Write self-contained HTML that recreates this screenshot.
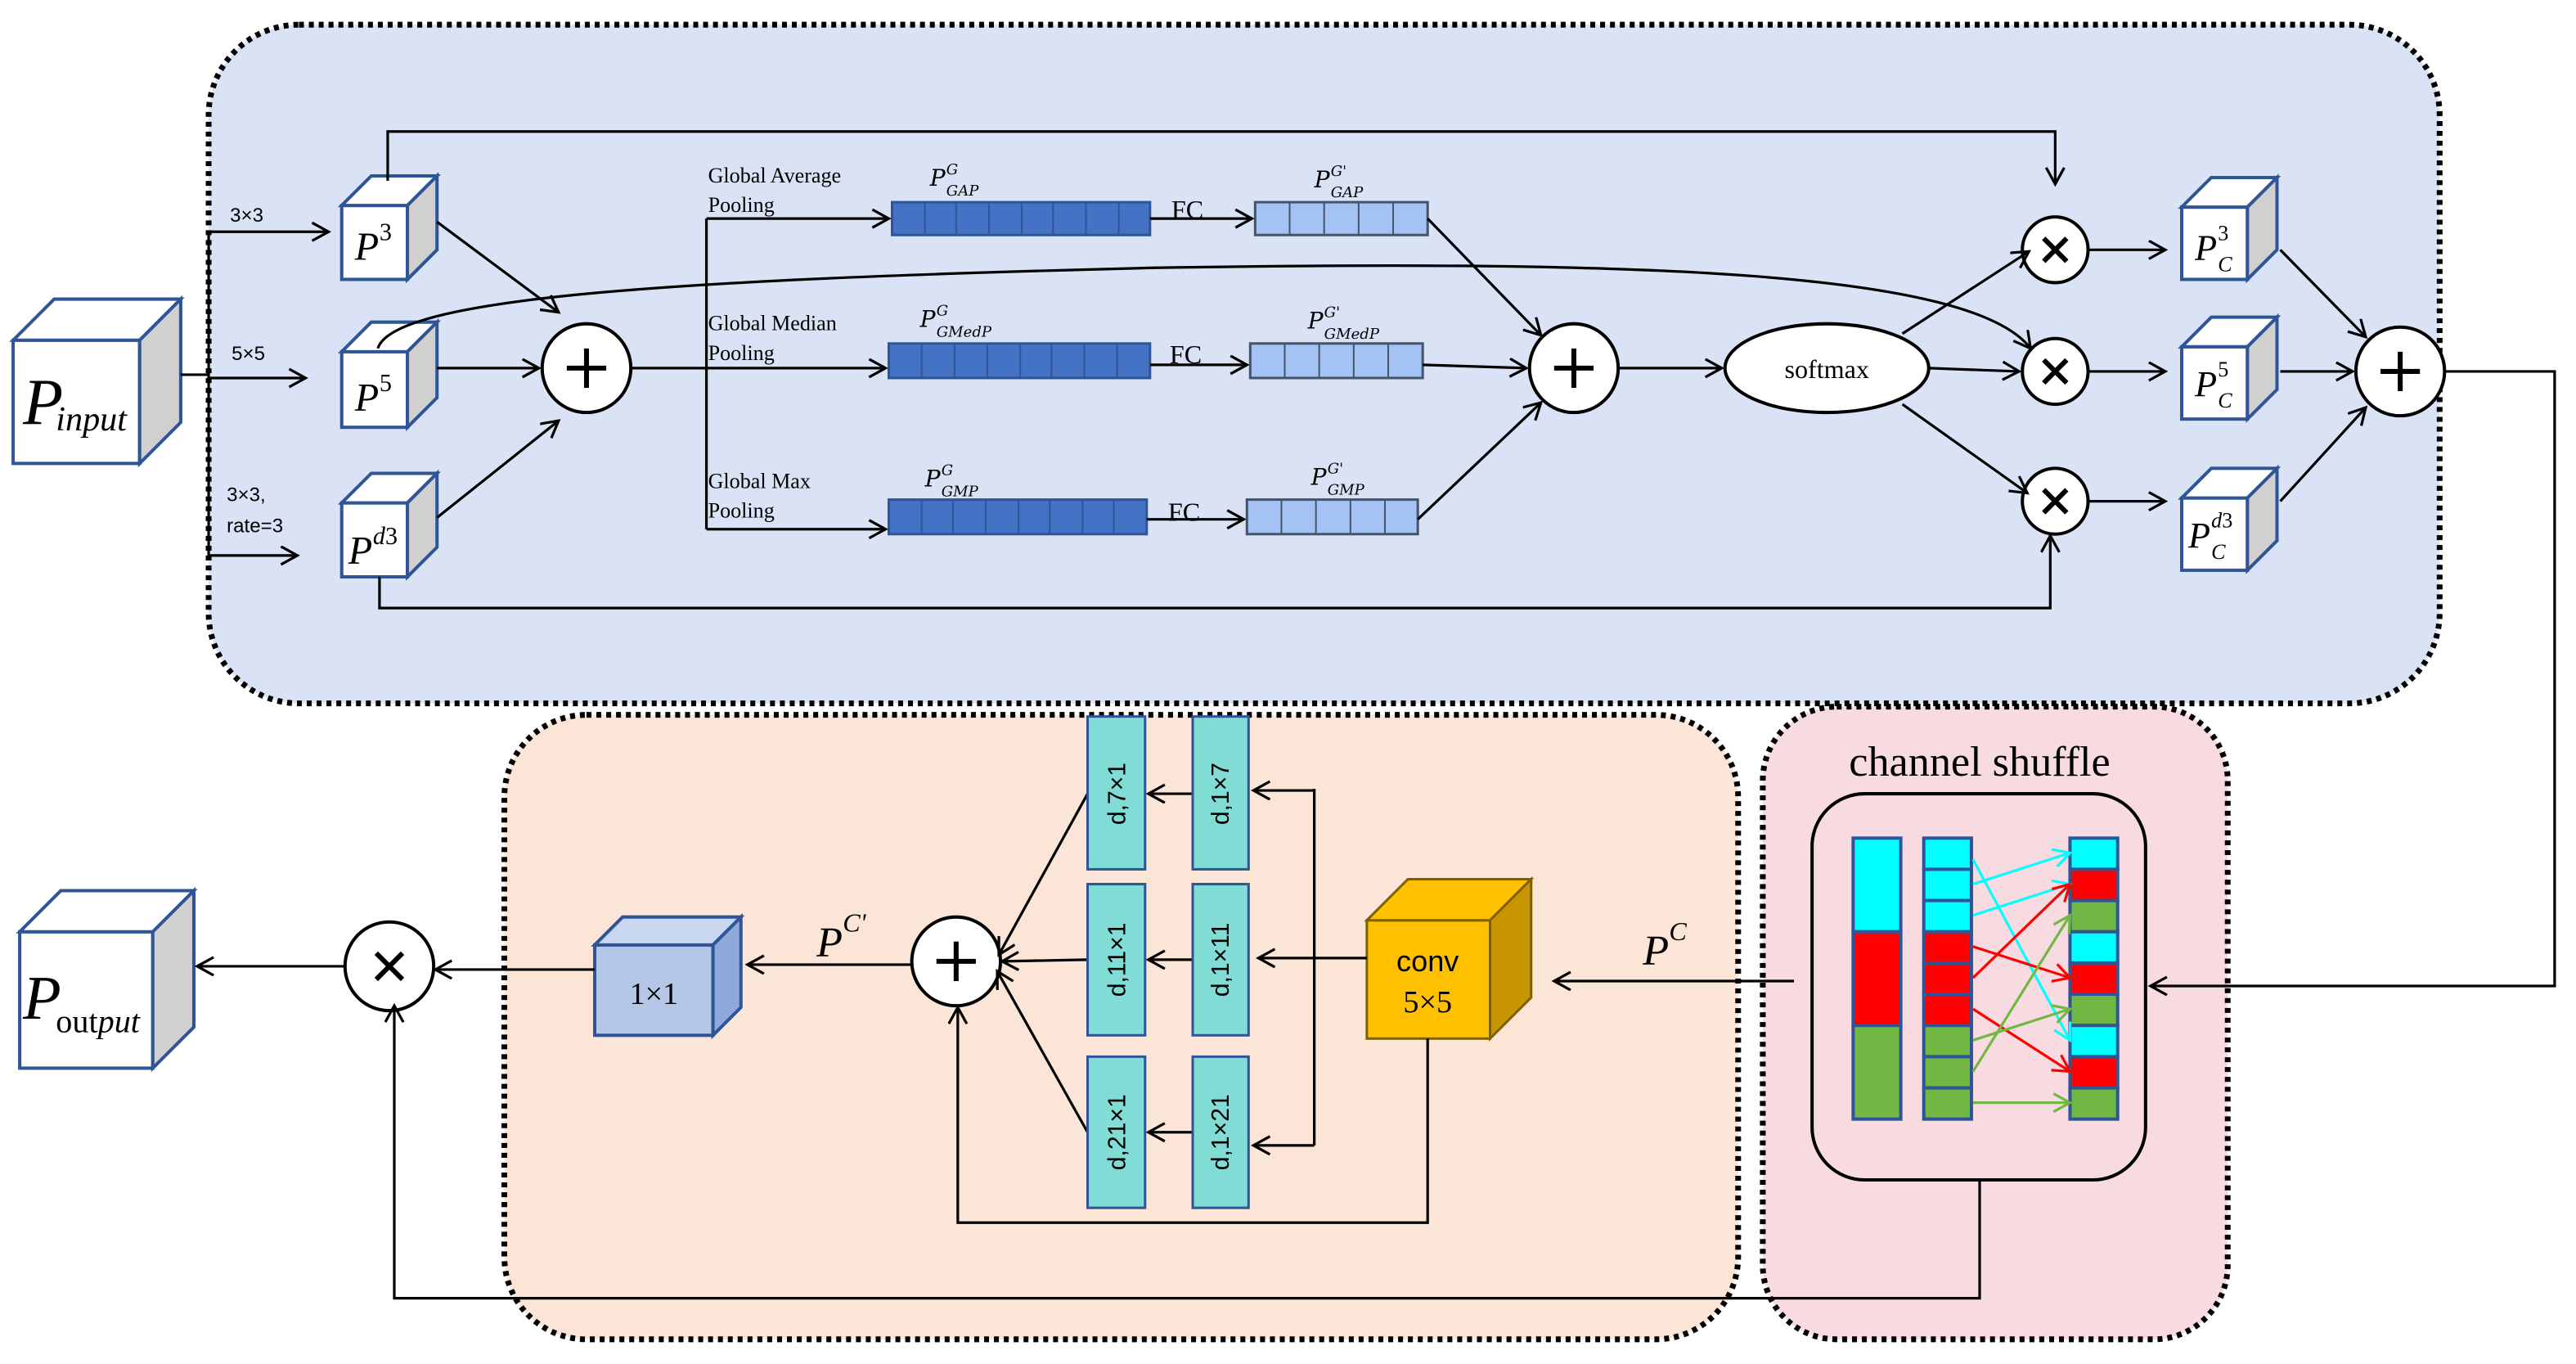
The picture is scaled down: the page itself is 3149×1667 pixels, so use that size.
<!DOCTYPE html>
<html><head><meta charset="utf-8"><style>html,body{margin:0;padding:0;background:#fff}svg{display:block}</style></head><body>
<svg width="3149" height="1667" viewBox="0 0 1568 830" xmlns="http://www.w3.org/2000/svg" font-family="Liberation Serif, serif">
<defs>
<marker id="a" markerUnits="userSpaceOnUse" markerWidth="14" markerHeight="14" refX="11" refY="6" orient="auto"><path d="M1,0.5 L11,6 L1,11.5" fill="none" stroke="#000" stroke-width="1.6"/></marker>
<marker id="ac" markerUnits="userSpaceOnUse" markerWidth="14" markerHeight="14" refX="11" refY="6" orient="auto"><path d="M1,0.5 L11,6 L1,11.5" fill="none" stroke="#00ffff" stroke-width="1.6"/></marker>
<marker id="ar" markerUnits="userSpaceOnUse" markerWidth="14" markerHeight="14" refX="11" refY="6" orient="auto"><path d="M1,0.5 L11,6 L1,11.5" fill="none" stroke="#ff0000" stroke-width="1.6"/></marker>
<marker id="ag" markerUnits="userSpaceOnUse" markerWidth="14" markerHeight="14" refX="11" refY="6" orient="auto"><path d="M1,0.5 L11,6 L1,11.5" fill="none" stroke="#70b843" stroke-width="1.6"/></marker>
</defs>
<rect x="127" y="15" width="1358" height="413" rx="55" fill="#dae3f5" stroke="#000" stroke-width="3.5" stroke-dasharray="3,3"/>
<rect x="307" y="435" width="751" height="380" rx="50" fill="#fbe5d6" stroke="#000" stroke-width="3.5" stroke-dasharray="3,3"/>
<rect x="1073" y="430" width="283" height="385" rx="45" fill="#f8dbe0" stroke="#000" stroke-width="3.5" stroke-dasharray="3,3"/>
<rect x="1103" y="483" width="203" height="235" rx="32" fill="none" stroke="#000" stroke-width="2"/>
<text x="1205" y="472" font-size="26" text-anchor="middle">channel shuffle</text>

<g stroke="#2f5597" stroke-width="2">
<g><rect x="8" y="207" width="77" height="75" fill="#fff"/><polygon points="8,207 33,182 110,182 85,207" fill="#fff"/><polygon points="85,207 110,182 110,257 85,282" fill="#d0d0d0"/></g>
<g><rect x="208" y="125" width="40" height="45" fill="#fff"/><polygon points="208,125 226,107 266,107 248,125" fill="#fff"/><polygon points="248,125 266,107 266,152 248,170" fill="#d0d0d0"/></g>
<g><rect x="208" y="214" width="40" height="46" fill="#fff"/><polygon points="208,214 226,196 266,196 248,214" fill="#fff"/><polygon points="248,214 266,196 266,242 248,260" fill="#d0d0d0"/></g>
<g><rect x="208" y="306" width="40" height="45" fill="#fff"/><polygon points="208,306 226,288 266,288 248,306" fill="#fff"/><polygon points="248,306 266,288 266,333 248,351" fill="#d0d0d0"/></g>
<g><rect x="1328" y="126" width="40" height="44" fill="#fff"/><polygon points="1328,126 1346,108 1386,108 1368,126" fill="#fff"/><polygon points="1368,126 1386,108 1386,152 1368,170" fill="#d0d0d0"/></g>
<g><rect x="1328" y="211" width="40" height="44" fill="#fff"/><polygon points="1328,211 1346,193 1386,193 1368,211" fill="#fff"/><polygon points="1368,211 1386,193 1386,237 1368,255" fill="#d0d0d0"/></g>
<g><rect x="1328" y="303" width="40" height="44" fill="#fff"/><polygon points="1328,303 1346,285 1386,285 1368,303" fill="#fff"/><polygon points="1368,303 1386,285 1386,329 1368,347" fill="#d0d0d0"/></g>
<g><rect x="12" y="567" width="81" height="83" fill="#fff"/><polygon points="12,567 37,542 118,542 93,567" fill="#fff"/><polygon points="93,567 118,542 118,625 93,650" fill="#d0d0d0"/></g>
<g><rect x="362" y="575" width="72" height="55" fill="#b4c7e7"/><polygon points="362,575 379,558 451,558 434,575" fill="#c8d6ef"/><polygon points="434,575 451,558 451,613 434,630" fill="#8eaadb"/></g>
</g>
<g stroke="#7f6000" stroke-width="1.5"><rect x="832" y="560" width="75" height="72" fill="#ffc000"/><polygon points="832,560 857,535 932,535 907,560" fill="#ffc000"/><polygon points="907,560 932,535 932,607 907,632" fill="#c89600"/></g>

<g font-style="italic">
<text x="14" y="258" font-size="40">P</text><text x="34" y="262" font-size="21">input</text>
<text x="216" y="158" font-size="24">P</text><text x="231" y="146" font-size="15" font-style="normal">3</text>
<text x="216" y="250" font-size="24">P</text><text x="231" y="238" font-size="15" font-style="normal">5</text>
<text x="212" y="343" font-size="24">P</text><text x="227" y="331" font-size="15">d<tspan font-style="normal">3</tspan></text>
<text x="1336" y="158" font-size="22">P</text><text x="1350" y="146" font-size="13" font-style="normal">3</text><text x="1350" y="165" font-size="13">C</text>
<text x="1336" y="241" font-size="22">P</text><text x="1350" y="229" font-size="13" font-style="normal">5</text><text x="1350" y="248" font-size="13">C</text>
<text x="1332" y="333" font-size="22">P</text><text x="1346" y="321" font-size="13">d<tspan font-style="normal">3</tspan></text><text x="1346" y="340" font-size="13">C</text>
<text x="14" y="620" font-size="38">P</text><text x="34" y="628" font-size="20"><tspan font-style="normal">out</tspan>put</text>
<text x="497" y="582" font-size="26">P</text><text x="513" y="567" font-size="16">C'</text>
<text x="1000" y="587" font-size="26">P</text><text x="1016" y="572" font-size="16">C</text>
</g>
<text x="398" y="611" font-size="19" text-anchor="middle">1×1</text>
<text x="869" y="591" font-size="18" text-anchor="middle" font-family="Liberation Sans, sans-serif">conv</text>
<text x="869" y="616" font-size="19" text-anchor="middle">5×5</text>

<g stroke="#2f5597" stroke-width="1.5" fill="#4472c4">
<rect x="543" y="123" width="157" height="20"/><rect x="541" y="209" width="159" height="21"/><rect x="541" y="304" width="157" height="21"/>
</g>
<g stroke="#2f5597" stroke-width="1">
<path d="M563,123v20M582,123v20M602,123v20M622,123v20M641,123v20M661,123v20M681,123v20"/>
<path d="M561,209v21M581,209v21M601,209v21M621,209v21M640,209v21M660,209v21M680,209v21"/>
<path d="M561,304v21M580,304v21M600,304v21M620,304v21M639,304v21M659,304v21M678,304v21"/>
</g>
<g stroke="#44546a" stroke-width="1.5" fill="#a4c2f4">
<rect x="764" y="123" width="105" height="20"/><rect x="761" y="209" width="105" height="21"/><rect x="759" y="304" width="104" height="21"/>
</g>
<g stroke="#44546a" stroke-width="1">
<path d="M785,123v20M806,123v20M827,123v20M848,123v20"/>
<path d="M782,209v21M803,209v21M824,209v21M845,209v21"/>
<path d="M780,304v21M801,304v21M822,304v21M843,304v21"/>
</g>
<g font-size="13">
<text x="431" y="111">Global Average</text><text x="431" y="129">Pooling</text>
<text x="431" y="201">Global Median</text><text x="431" y="219">Pooling</text>
<text x="431" y="297">Global Max</text><text x="431" y="315">Pooling</text>
</g>
<g font-size="16"><text x="713" y="133">FC</text><text x="712" y="221">FC</text><text x="711" y="317">FC</text></g>
<g font-style="italic" font-family="DejaVu Serif, serif">
<text x="566" y="113" font-size="14">P</text><text x="576" y="106" font-size="9">G</text><text x="576" y="119" font-size="9">GAP</text>
<text x="800" y="114" font-size="14">P</text><text x="810" y="107" font-size="9">G'</text><text x="810" y="120" font-size="9">GAP</text>
<text x="560" y="199" font-size="14">P</text><text x="570" y="192" font-size="9">G</text><text x="570" y="205" font-size="9">GMedP</text>
<text x="796" y="200" font-size="14">P</text><text x="806" y="193" font-size="9">G'</text><text x="806" y="206" font-size="9">GMedP</text>
<text x="563" y="296" font-size="14">P</text><text x="573" y="289" font-size="9">G</text><text x="573" y="302" font-size="9">GMP</text>
<text x="798" y="295" font-size="14">P</text><text x="808" y="288" font-size="9">G'</text><text x="808" y="301" font-size="9">GMP</text>
</g>

<g fill="#fff" stroke="#000" stroke-width="2">
<circle cx="357" cy="224" r="27"/><circle cx="958" cy="224" r="27"/>
<ellipse cx="1112" cy="224" rx="62" ry="27"/>
<circle cx="1251" cy="152" r="20"/><circle cx="1251" cy="226" r="20"/><circle cx="1251" cy="305" r="20"/>
<circle cx="1461" cy="226" r="27"/><circle cx="582" cy="585" r="27"/><circle cx="237" cy="588" r="27"/>
</g>
<text x="1112" y="230" font-size="16" text-anchor="middle">softmax</text>
<g stroke="#000" stroke-width="3" fill="none">
<path d="M345,224h24M357,212v24M946,224h24M958,212v24M1449,226h24M1461,214v24M570,585h24M582,573v24"/>
<path d="M1244,145l14,14M1258,145l-14,14M1244,219l14,14M1258,219l-14,14M1244,298l14,14M1258,298l-14,14M229,580l16,16M245,580l-16,16"/>
</g>

<g stroke="#000" stroke-width="1.6" fill="none">
<path d="M110,228H127M127,141V338"/>
<path d="M127,141H200" marker-end="url(#a)"/><path d="M127,230H186" marker-end="url(#a)"/><path d="M127,338H181" marker-end="url(#a)"/>
<path d="M236,110V80H1251V112" marker-end="url(#a)"/>
<path d="M231,351V370H1248V326" marker-end="url(#a)"/>
<path d="M230,212C240,180 420,170 700,163C1000,158 1200,165 1236,212" marker-end="url(#a)"/>
<path d="M266,135L340,190" marker-end="url(#a)"/><path d="M266,224H328" marker-end="url(#a)"/><path d="M266,315L340,256" marker-end="url(#a)"/>
<path d="M384,224H430M430,133V322"/>
<path d="M430,133H541" marker-end="url(#a)"/><path d="M430,224H539" marker-end="url(#a)"/><path d="M430,322H539" marker-end="url(#a)"/>
<path d="M700,133H762" marker-end="url(#a)"/><path d="M700,222H759" marker-end="url(#a)"/><path d="M698,316H757" marker-end="url(#a)"/>
<path d="M869,133L938,204" marker-end="url(#a)"/><path d="M866,222L929,224" marker-end="url(#a)"/><path d="M863,316L938,245" marker-end="url(#a)"/>
<path d="M985,224H1048" marker-end="url(#a)"/>
<path d="M1158,203L1235,153" marker-end="url(#a)"/><path d="M1174,224L1229,226" marker-end="url(#a)"/><path d="M1158,246L1234,300" marker-end="url(#a)"/>
<path d="M1271,152H1318" marker-end="url(#a)"/><path d="M1271,226H1318" marker-end="url(#a)"/><path d="M1271,305H1318" marker-end="url(#a)"/>
<path d="M1388,152L1440,205" marker-end="url(#a)"/><path d="M1388,226L1432,226" marker-end="url(#a)"/><path d="M1388,305L1440,248" marker-end="url(#a)"/>
<path d="M1488,226H1555V600H1309" marker-end="url(#a)"/>
<path d="M1092,597H946" marker-end="url(#a)"/>
<path d="M869,632V744H583V613" marker-end="url(#a)"/>
<path d="M832,583H766" marker-end="url(#a)"/>
<path d="M800,480V697"/>
<path d="M800,481H763" marker-end="url(#a)"/><path d="M800,697H763" marker-end="url(#a)"/>
<path d="M726,483H699" marker-end="url(#a)"/><path d="M726,584H699" marker-end="url(#a)"/><path d="M726,689H699" marker-end="url(#a)"/>
<path d="M662,483L608,581" marker-end="url(#a)"/><path d="M662,584L610,585" marker-end="url(#a)"/><path d="M662,689L607,591" marker-end="url(#a)"/>
<path d="M555,587H455" marker-end="url(#a)"/>
<path d="M362,590H265" marker-end="url(#a)"/>
<path d="M210,588H120" marker-end="url(#a)"/>
<path d="M1205,718V790H240V612" marker-end="url(#a)"/>
</g>

<g fill="#80dcd4" stroke="#2f5597" stroke-width="1.5">
<rect x="662" y="436" width="35" height="93"/><rect x="662" y="538" width="35" height="92"/><rect x="662" y="643" width="35" height="92"/>
<rect x="726" y="436" width="34" height="93"/><rect x="726" y="538" width="34" height="92"/><rect x="726" y="643" width="34" height="92"/>
</g>
<g font-size="15" font-family="Liberation Sans, sans-serif" text-anchor="middle">
<text transform="translate(685,483) rotate(-90)">d,7×1</text>
<text transform="translate(685,584) rotate(-90)">d,11×1</text>
<text transform="translate(685,689) rotate(-90)">d,21×1</text>
<text transform="translate(748,483) rotate(-90)">d,1×7</text>
<text transform="translate(748,584) rotate(-90)">d,1×11</text>
<text transform="translate(748,689) rotate(-90)">d,1×21</text>
</g>
<g font-size="12" font-family="Liberation Sans, sans-serif">
<text x="140" y="135">3×3</text><text x="141" y="219">5×5</text><text x="138" y="305">3×3,</text><text x="138" y="324">rate=3</text>
</g>

<g stroke="#2f5597" stroke-width="2">
<rect x="1128" y="510" width="29" height="57" fill="#00ffff"/><rect x="1128" y="567" width="29" height="57" fill="#ff0000"/><rect x="1128" y="624" width="29" height="57" fill="#70b843"/>
<rect x="1171" y="510" width="29" height="19" fill="#00ffff"/><rect x="1171" y="529" width="29" height="19" fill="#00ffff"/><rect x="1171" y="548" width="29" height="19" fill="#00ffff"/>
<rect x="1171" y="567" width="29" height="19" fill="#ff0000"/><rect x="1171" y="586" width="29" height="19" fill="#ff0000"/><rect x="1171" y="605" width="29" height="19" fill="#ff0000"/>
<rect x="1171" y="624" width="29" height="19" fill="#70b843"/><rect x="1171" y="643" width="29" height="19" fill="#70b843"/><rect x="1171" y="662" width="29" height="19" fill="#70b843"/>
<rect x="1260" y="510" width="29" height="19" fill="#00ffff"/><rect x="1260" y="529" width="29" height="19" fill="#ff0000"/><rect x="1260" y="548" width="29" height="19" fill="#70b843"/>
<rect x="1260" y="567" width="29" height="19" fill="#00ffff"/><rect x="1260" y="586" width="29" height="19" fill="#ff0000"/><rect x="1260" y="605" width="29" height="19" fill="#70b843"/>
<rect x="1260" y="624" width="29" height="19" fill="#00ffff"/><rect x="1260" y="643" width="29" height="19" fill="#ff0000"/><rect x="1260" y="662" width="29" height="19" fill="#70b843"/>
</g>
<g stroke-width="1.6" fill="none">
<path d="M1201,523L1260,633" stroke="#00ffff" marker-end="url(#ac)"/>
<path d="M1201,538L1260,519" stroke="#00ffff" marker-end="url(#ac)"/>
<path d="M1201,557L1260,538" stroke="#00ffff" marker-end="url(#ac)"/>
<path d="M1201,576L1260,595" stroke="#ff0000" marker-end="url(#ar)"/>
<path d="M1201,595L1260,538" stroke="#ff0000" marker-end="url(#ar)"/>
<path d="M1201,614L1260,652" stroke="#ff0000" marker-end="url(#ar)"/>
<path d="M1201,633L1260,614" stroke="#70b843" marker-end="url(#ag)"/>
<path d="M1201,652L1260,557" stroke="#70b843" marker-end="url(#ag)"/>
<path d="M1201,671L1260,671" stroke="#70b843" marker-end="url(#ag)"/>
</g>
</svg>
</body></html>
